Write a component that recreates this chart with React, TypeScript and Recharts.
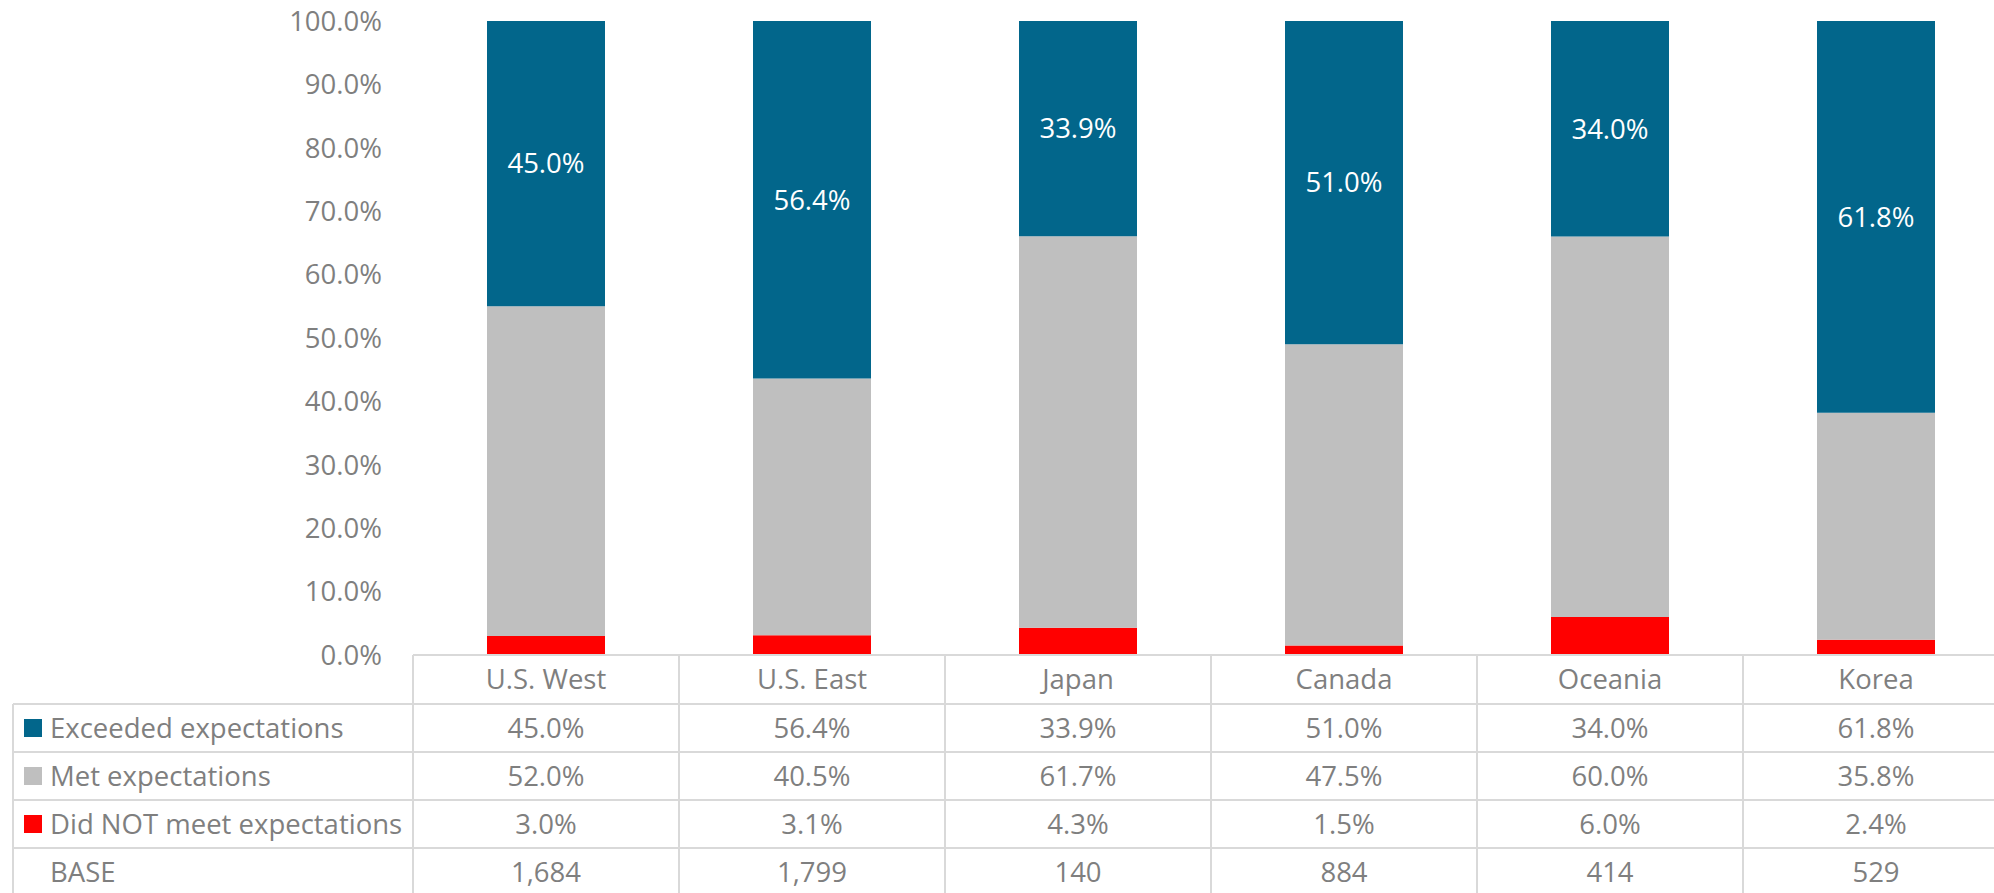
import React from "react";
import { BarChart, Bar, XAxis, YAxis, LabelList } from "recharts";

const categories = ["U.S. West", "U.S. East", "Japan", "Canada", "Oceania", "Korea"];
const exceeded = [45.0, 56.4, 33.9, 51.0, 34.0, 61.8];
const met = [52.0, 40.5, 61.7, 47.5, 60.0, 35.8];
const didNot = [3.0, 3.1, 4.3, 1.5, 6.0, 2.4];
const base = [1684, 1799, 140, 884, 414, 529];
const yTicks = [0, 10, 20, 30, 40, 50, 60, 70, 80, 90, 100];

const seriesNames = ["Exceeded expectations", "Met expectations", "Did NOT meet expectations"];
const BLUE = "#02668b";
const GRAY = "#bfbfbf";
const RED = "#ff0000";
const TEXT = "#7f7f7f";
const LINE = "#d9d9d9";
const FONT = "'Open Sans', sans-serif";
const FS = 27.5;

const data = categories.map((name, i) => ({
  name,
  exceeded: exceeded[i],
  met: met[i],
  didNot: didNot[i],
}));

const pct = (v: number) => `${Number(v).toFixed(1)}%`;

const CHART_W = 2009;
const CHART_H = 893;
const Y_W = 413;
const TOP = 21;
const X_H = 238;
const BAND = (CHART_W - Y_W) / categories.length;
const TABLE_LEFT = 13;

const rowDefs = [
  { label: seriesNames[0], color: BLUE, values: exceeded.map(pct) },
  { label: seriesNames[1], color: GRAY, values: met.map(pct) },
  { label: seriesNames[2], color: RED, values: didNot.map(pct) },
  { label: "BASE", color: null as string | null, values: base.map((b) => b.toLocaleString("en-US")) },
];

const HEADER_H = 49;
const ROW_H = 48;

const TableTick = (props: any) => {
  const { x, y, payload } = props;
  const i: number = payload?.index ?? props.index ?? 0;
  const half = BAND / 2;
  const left = x - half;
  const right = x + half;
  const bottom = y + HEADER_H + ROW_H * rowDefs.length + 10;
  const els: React.ReactNode[] = [];

  els.push(<line key="vl" x1={left} x2={left} y1={y} y2={bottom} stroke={LINE} strokeWidth={2} />);
  if (i === categories.length - 1) {
    els.push(<line key="vr" x1={right} x2={right} y1={y} y2={bottom} stroke={LINE} strokeWidth={2} />);
  }
  for (let r = 0; r < rowDefs.length; r++) {
    const ly = y + HEADER_H + ROW_H * r;
    els.push(
      <line key={`h${r}`} x1={i === 0 ? TABLE_LEFT : left} x2={right} y1={ly} y2={ly} stroke={LINE} strokeWidth={2} />
    );
  }
  els.push(
    <text key="hd" x={x} y={y + HEADER_H / 2} dy="0.36em" textAnchor="middle" fill={TEXT} fontSize={FS} fontFamily={FONT}>
      {categories[i]}
    </text>
  );
  rowDefs.forEach((row, r) => {
    const cy = y + HEADER_H + ROW_H * r + ROW_H / 2;
    els.push(
      <text key={`v${r}`} x={x} y={cy} dy="0.36em" textAnchor="middle" fill={TEXT} fontSize={FS} fontFamily={FONT}>
        {row.values[i]}
      </text>
    );
    if (i === 0) {
      if (row.color) {
        els.push(<rect key={`m${r}`} x={TABLE_LEFT + 11} y={cy - 9} width={18} height={18} fill={row.color} />);
      }
      els.push(
        <text key={`l${r}`} x={TABLE_LEFT + 37} y={cy} dy="0.36em" textAnchor="start" fill={TEXT} fontSize={FS} fontFamily={FONT}>
          {row.label}
        </text>
      );
    }
  });
  if (i === 0) {
    els.push(
      <line key="lv" x1={TABLE_LEFT} x2={TABLE_LEFT} y1={y + HEADER_H} y2={bottom} stroke={LINE} strokeWidth={2} />
    );
  }
  return <g>{els}</g>;
};

export default function App() {
  return (
    <div style={{ position: "absolute", left: 0, top: 0, width: 1994, height: 893, overflow: "hidden", background: "#fff" }}>
      <BarChart
        width={CHART_W}
        height={CHART_H}
        data={data}
        stackOffset="expand"
        margin={{ top: TOP, right: 0, left: 0, bottom: 0 }}
        style={{ fontFamily: FONT }}
      >
        <XAxis
          dataKey="name"
          height={X_H}
          interval={0}
          tickLine={false}
          tickSize={0}
          tickMargin={0}
          axisLine={{ stroke: LINE, strokeWidth: 2 }}
          tick={<TableTick />}
        />
        <YAxis
          width={Y_W}
          domain={[0, 1]}
          ticks={yTicks.map((t) => t / 100)}
          interval={0}
          tickFormatter={(v: number) => pct(v * 100)}
          axisLine={false}
          tickLine={false}
          tickSize={0}
          tickMargin={31}
          tick={{ fill: TEXT, fontSize: FS, fontFamily: FONT }}
        />
        <Bar dataKey="didNot" name={seriesNames[2]} stackId="a" fill={RED} barSize={118} isAnimationActive={false} />
        <Bar dataKey="met" name={seriesNames[1]} stackId="a" fill={GRAY} barSize={118} isAnimationActive={false} />
        <Bar dataKey="exceeded" name={seriesNames[0]} stackId="a" fill={BLUE} barSize={118} isAnimationActive={false}>
          <LabelList dataKey="exceeded" position="center" formatter={(v: any) => pct(v)} fill="#ffffff" fontSize={FS} fontFamily={FONT} />
        </Bar>
      </BarChart>
    </div>
  );
}
